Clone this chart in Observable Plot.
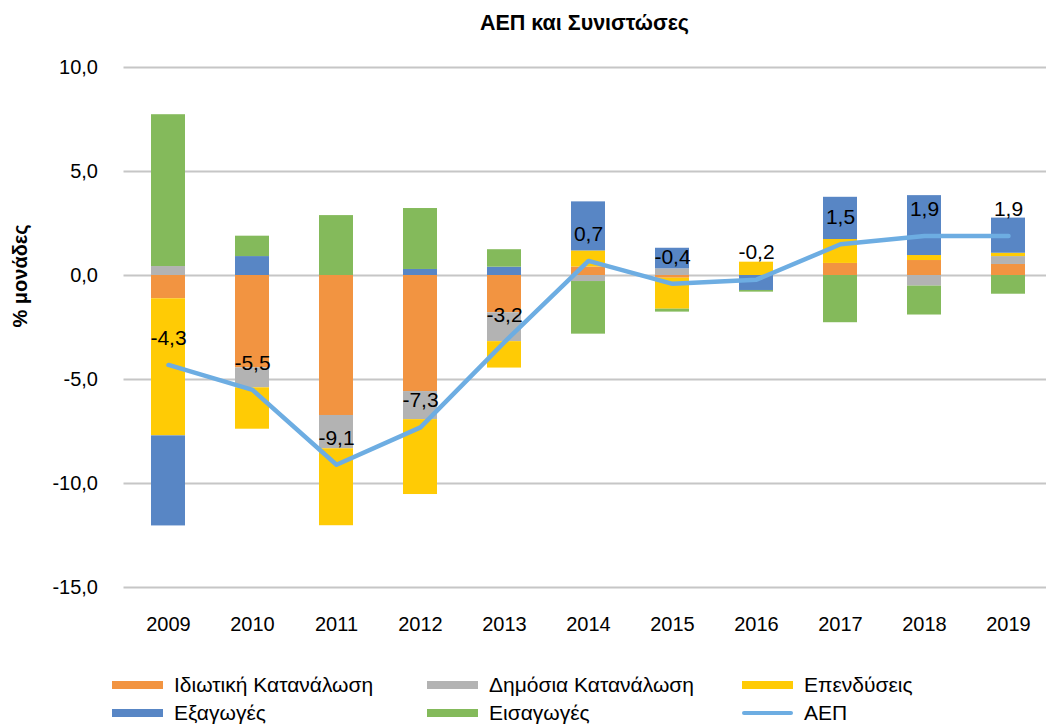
<!DOCTYPE html>
<html>
<head>
<meta charset="utf-8">
<script src="https://cdn.jsdelivr.net/npm/d3@7"></script>
<script src="https://cdn.jsdelivr.net/npm/@observablehq/plot@0.6"></script>
<style>
  html, body { margin: 0; padding: 0; background: #fff; overflow: hidden; }
  #wrap { position: relative; width: 1046px; height: 724px; font-family: "Liberation Sans", Arial, Helvetica, sans-serif; color: #000; }
  #title { position: absolute; left: 123px; width: 923px; top: 11px; text-align: center; font-weight: bold; font-size: 21.5px; }
  #chart { position: absolute; left: 0; top: 0; }
  .lg { position: absolute; font-size: 21px; line-height: 24px; white-space: nowrap; }
  .sw { position: absolute; width: 51px; height: 8px; }
  .ln { position: absolute; width: 51px; height: 4px; border-radius: 2px; }
</style>
</head>
<body>
<div id="wrap">
  <div id="chart"></div>
  <div id="title">ΑΕΠ και Συνιστώσες</div>
  <div id="legend"></div>
</div>
<script>
const years = ["2009","2010","2011","2012","2013","2014","2015","2016","2017","2018","2019"];
const seriesNames = ["Ιδιωτική Κατανάλωση","Δημόσια Κατανάλωση","Επενδύσεις","Εξαγωγές","Εισαγωγές"];
const seriesColors = ["#F29441","#B3B3B3","#FFCB05","#5886C5","#84BA5B"];
const privateCons = [-1.12, -4.44, -6.73, -5.58, -1.79, 0.41, -0.13, 0.0, 0.58, 0.72, 0.53];
const publicCons  = [0.43, -0.96, -1.60, -1.35, -1.39, -0.29, 0.32, 0.0, 0.0, -0.51, 0.38];
const investment  = [-6.59, -1.99, -3.70, -3.60, -1.27, 0.77, -1.49, 0.64, 1.15, 0.24, 0.16];
const exportsV    = [-4.33, 0.91, 0.0, 0.29, 0.40, 2.36, 0.99, -0.72, 2.03, 2.88, 1.69];
const importsV    = [7.30, 0.98, 2.88, 2.93, 0.84, -2.53, -0.14, -0.08, -2.27, -1.39, -0.90];
const gdp         = [-4.3, -5.5, -9.1, -7.3, -3.2, 0.7, -0.4, -0.2, 1.5, 1.9, 1.9];
const yTicks = [-15, -10, -5, 0, 5, 10];
const gdpName = "ΑΕΠ";
const gdpColor = "#6DADE2";

const seriesValues = [privateCons, publicCons, investment, exportsV, importsV];
const rows = [];
seriesNames.forEach((s, k) => {
  years.forEach((y, i) => rows.push({year: y, series: s, value: seriesValues[k][i]}));
});
const gdpRows = years.map((y, i) => ({year: y, value: gdp[i]}));
const fmt = d => d.toFixed(1).replace(".", ",");

const font = "'Liberation Sans', Arial, Helvetica, sans-serif";

const plot = Plot.plot({
  width: 1046,
  height: 650,
  marginTop: 67,
  marginBottom: 63,
  marginLeft: 123.5,
  marginRight: -7,
  style: {fontFamily: font, fontSize: "20px", color: "#000", background: "transparent", overflow: "hidden"},
  x: {type: "band", domain: years, paddingInner: 0.6, paddingOuter: 0.3},
  y: {domain: [-15, 10]},
  color: {domain: seriesNames, range: seriesColors},
  marks: [
    Plot.ruleY(yTicks, {stroke: "#C6C6C6", strokeWidth: 2}),
    Plot.barY(rows, {x: "year", y: "value", z: "series", fill: "series"}),
    Plot.line(gdpRows, {x: "year", y: "value", stroke: gdpColor, strokeWidth: 4.5, strokeLinejoin: "round", strokeLinecap: "round"}),
    Plot.text(gdpRows, {x: "year", y: "value", text: d => fmt(d.value), dy: -27, fontSize: 21, fill: "#000"}),
    Plot.axisY(yTicks, {tickSize: 0, tickPadding: 26, tickFormat: fmt, fontSize: 20, label: null}),
    Plot.axisX({tickSize: 0, tickPadding: 29, fontSize: 20, label: null}),
    Plot.text(["% μονάδες"], {frameAnchor: "left", rotate: -90, dx: -103, fontWeight: "bold", fontSize: 20, fill: "#000"})
  ]
});
document.getElementById("chart").appendChild(plot);

const legendItems = [
  {name: seriesNames[0], color: seriesColors[0], x: 112, row: 0},
  {name: seriesNames[1], color: seriesColors[1], x: 427, row: 0},
  {name: seriesNames[2], color: seriesColors[2], x: 742, row: 0},
  {name: seriesNames[3], color: seriesColors[3], x: 112, row: 1},
  {name: seriesNames[4], color: seriesColors[4], x: 427, row: 1},
  {name: gdpName, color: gdpColor, x: 742, row: 1, line: true}
];
const lg = document.getElementById("legend");
legendItems.forEach(it => {
  const cy = 685 + it.row * 28;
  const sw = document.createElement("div");
  sw.className = it.line ? "ln" : "sw";
  sw.style.background = it.color;
  sw.style.left = it.x + "px";
  sw.style.top = (cy - (it.line ? 2 : 4)) + "px";
  lg.appendChild(sw);
  const t = document.createElement("div");
  t.className = "lg";
  t.textContent = it.name;
  t.style.left = (it.x + 62) + "px";
  t.style.top = (cy - 12) + "px";
  lg.appendChild(t);
});
</script>
</body>
</html>
